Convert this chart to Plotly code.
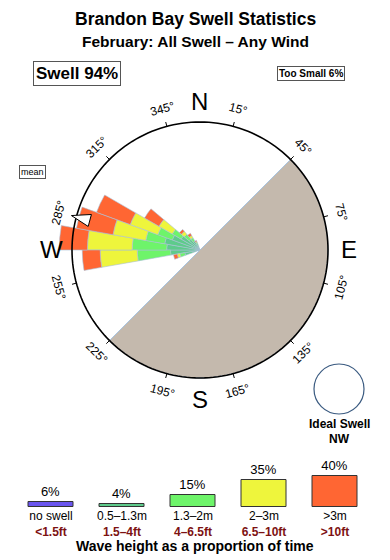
import math
import plotly.graph_objects as go

# ---------------- data ----------------
directions = [255, 265, 275, 285, 295, 305, 315, 325, 335]
band_05_13 = [1.2, 2.3, 2.6, 2.8, 2.3, 1.7, 1.1, 0.8, 0.4]   # 0.5-1.3m
band_13_2 = [0.4, 2.6, 2.7, 1.5, 1.2, 0.8, 0.5, 0.3, 0.2]    # 1.3-2m
band_2_3 = [0.2, 2.9, 3.5, 2.6, 2.3, 1.2, 0.3, 0.2, 0.1]     # 2-3m
band_3p = [0.3, 1.4, 2.2, 2.9, 2.8, 1.3, 0.2, 0.2, 0.1]      # >3m
band_names = ["0.5-1.3m", "1.3-2m", "2-3m", ">3m"]

mean_direction = 285
shadow_center, shadow_width = 135, 180   # land shadow 45 -> 225

tick_angles = [15, 45, 75, 105, 135, 165, 195, 225, 255, 285, 315, 345]
cardinals = ["N", "E", "S", "W"]
cardinal_angles = [0, 90, 180, 270]

legend_labels = ["no swell", "0.5\u20131.3m", "1.3\u20132m", "2\u20133m", ">3m"]
legend_feet = ["<1.5ft", "1.5\u20134ft", "4\u20136.5ft", "6.5\u201310ft", ">10ft"]
legend_pct = [6, 4, 15, 35, 40]

# ---------------- style ----------------
W, H = 390, 560
CX, CY = 200, 250          # rose centre in px (from top-left)
R_CIRCLE = 10.0            # radial value of the compass circle
PX_PER_UNIT = 12.8
R_DOMAIN_PX = 146
R_MAX = R_DOMAIN_PX / PX_PER_UNIT

band_colors = ["#5ecb8b", "#6ef46a", "#eef53c", "#ff6633"]
legend_colors = ["#6a55ee", "#5ecb8b", "#6ef46a", "#eef53c", "#ff6633"]
FONT = "Liberation Sans, Arial, sans-serif"


def to_paper(theta_deg, r_px):
    t = math.radians(theta_deg)
    x = CX + r_px * math.sin(t)
    y = CY - r_px * math.cos(t)
    return x / W, 1 - y / H


fig = go.Figure()

# land shadow
fig.add_trace(go.Barpolar(
    r=[R_CIRCLE], theta=[shadow_center], width=[shadow_width],
    marker=dict(color="#c4b9ad", line=dict(color="#a8c4e0", width=1)),
    showlegend=False, hoverinfo="skip", subplot="polar"))

# stacked swell bands
for vals, col, name in zip([band_05_13, band_13_2, band_2_3, band_3p], band_colors, band_names):
    fig.add_trace(go.Barpolar(
        r=vals, theta=directions, width=[10] * len(directions), name=name,
        marker=dict(color=col, line=dict(color="#a9bfd6", width=0.6)),
        showlegend=False, subplot="polar"))

# compass circle
circle_theta = list(range(0, 361, 2))
fig.add_trace(go.Scatterpolar(
    r=[R_CIRCLE] * len(circle_theta), theta=circle_theta, mode="lines",
    line=dict(color="black", width=1.6), showlegend=False, hoverinfo="skip",
    subplot="polar"))

# tick marks
tr, tt = [], []
for a in tick_angles:
    tr += [R_CIRCLE, R_CIRCLE + 0.35, None]
    tt += [a, a, None]
fig.add_trace(go.Scatterpolar(
    r=tr, theta=tt, mode="lines", line=dict(color="black", width=1),
    showlegend=False, hoverinfo="skip", subplot="polar"))

# mean arrow (apex points toward the centre)
fig.add_trace(go.Scatterpolar(
    r=[10.4], theta=[mean_direction], mode="markers",
    marker=dict(symbol="arrow", size=20, angle=mean_direction,
                color="white", line=dict(color="black", width=1)),
    showlegend=False, hoverinfo="skip", subplot="polar"))

# legend bars
fig.add_trace(go.Bar(
    x=list(range(len(legend_pct))), y=legend_pct, width=0.63,
    marker=dict(color=legend_colors, line=dict(color="#333333", width=1)),
    text=[f"{p}%" for p in legend_pct], textposition="outside",
    textfont=dict(size=13, color="black", family=FONT),
    constraintext="none", cliponaxis=False,
    showlegend=False, xaxis="x", yaxis="y"))

fig.update_layout(
    width=W, height=H, margin=dict(l=0, r=0, t=0, b=0),
    paper_bgcolor="white", plot_bgcolor="white",
    font=dict(family=FONT, color="black"),
    polar=dict(
        domain=dict(x=[(CX - R_DOMAIN_PX) / W, (CX + R_DOMAIN_PX) / W],
                    y=[1 - (CY + R_DOMAIN_PX) / H, 1 - (CY - R_DOMAIN_PX) / H]),
        bgcolor="rgba(0,0,0,0)",
        barmode="stack",
        radialaxis=dict(range=[0, R_MAX], visible=False, showgrid=False),
        angularaxis=dict(rotation=90, direction="clockwise", visible=False,
                         showgrid=False, showline=False, showticklabels=False),
    ),
    xaxis=dict(domain=[15.5 / W, 370.5 / W], range=[-0.5, 4.5],
               tickvals=list(range(5)),
               ticktext=[f"{a}<br><span style='color:#7d1212'><b>{b}</b></span>"
                         for a, b in zip(legend_labels, legend_feet)],
               tickfont=dict(size=12, family=FONT, color="black"),
               showgrid=False, zeroline=False, showline=False, ticks=""),
    yaxis=dict(domain=[53 / H, 92 / H], range=[0, 50], visible=False,
               showgrid=False, zeroline=False),
    bargap=0,
)

P = dict(xref="paper", yref="paper", showarrow=False, xanchor="center", yanchor="middle")
ann = []
ann.append(dict(x=0.5, y=1 - 19 / H, text="<b>Brandon Bay Swell Statistics</b>",
                font=dict(size=17.5), **P))
ann.append(dict(x=0.5, y=1 - 42 / H, text="<b>February: All Swell \u2013 Any Wind</b>",
                font=dict(size=15.5), **P))
ann.append(dict(x=77 / W, y=1 - 74 / H, text="<b>Swell 94%</b>", font=dict(size=17),
                bordercolor="#555", borderwidth=1, borderpad=2, **P))
ann.append(dict(x=311 / W, y=1 - 74 / H, text="<b>Too Small 6%</b>", font=dict(size=10),
                bordercolor="#555", borderwidth=1, borderpad=1, **P))
ann.append(dict(x=32 / W, y=1 - 172 / H, text="mean", font=dict(size=9),
                bordercolor="#555", borderwidth=1, borderpad=1, **P))

for a in tick_angles:
    x, y = to_paper(a, 146)
    rot = a if (a < 90 or a > 270) else a - 180
    if rot > 180:
        rot -= 360
    ann.append(dict(x=x, y=y, text=f"{a}\u00b0", textangle=rot, font=dict(size=12), **P))
for c, a in zip(cardinals, cardinal_angles):
    x, y = to_paper(a, 149)
    ann.append(dict(x=x, y=y, text=c, font=dict(size=24), **P))

ann.append(dict(x=339 / W, y=1 - 424 / H, text="<b>Ideal Swell</b>", font=dict(size=12), **P))
ann.append(dict(x=339 / W, y=1 - 439 / H, text="<b>NW</b>", font=dict(size=12), **P))
ann.append(dict(x=0.5, y=1 - 546 / H, text="<b>Wave height as a proportion of time</b>",
                font=dict(size=14), **P))
fig.update_layout(annotations=ann)

fig.add_shape(type="circle", xref="paper", yref="paper",
              x0=(339 - 25) / W, x1=(339 + 25) / W,
              y0=1 - (389 + 25) / H, y1=1 - (389 - 25) / H,
              line=dict(color="#3a5a80", width=1.2))

fig.write_html("out.html")
